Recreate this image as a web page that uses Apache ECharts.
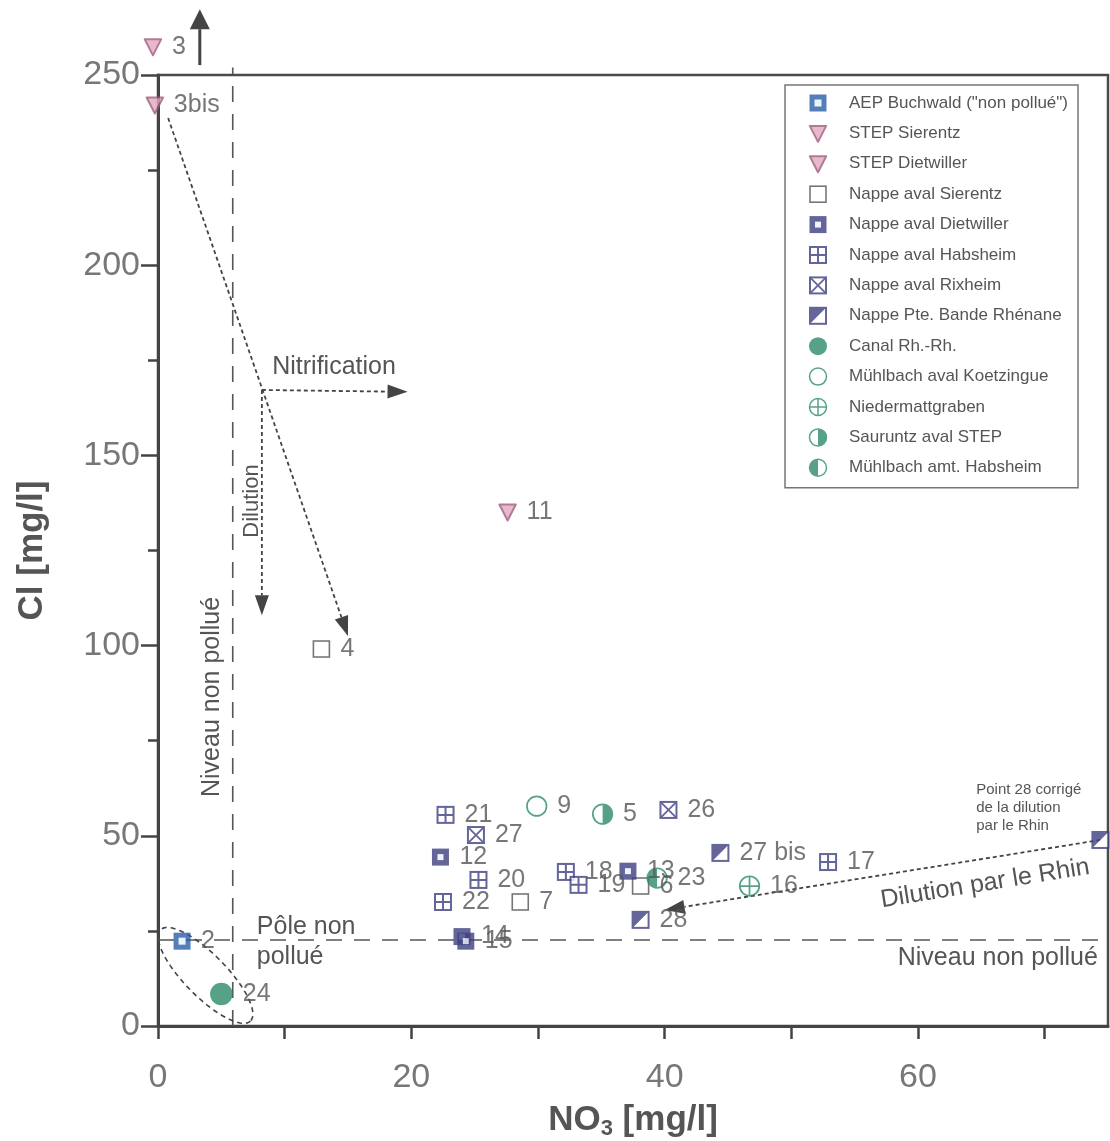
<!DOCTYPE html>
<html><head><meta charset="utf-8">
<script src="https://cdn.jsdelivr.net/npm/echarts@6/dist/echarts.min.js"></script>
<style>html,body{margin:0;padding:0;background:#fff}#c{width:1110px;height:1141px}</style>
</head><body><div id="c"></div>
<script>
// ---- data: [NO3 (mg/l), Cl (mg/l), point label] ----
const aepBuchwald     = [[1.9, 22.3, '2']];
const stepSierentz    = [[-0.4, 257.4, '3'], [-0.25, 242.1, '3bis']];
const stepDietwiller  = [[27.6, 135.1, '11']];
const nappeSierentz   = [[12.9, 99.1, '4'], [28.6, 32.6, '7'], [38.1, 36.8, '6']];
const nappeDietwiller = [[22.3, 44.4, '12'], [24.0, 23.5, '14'], [24.3, 22.3, '15'], [37.1, 40.7, '13']];
const nappeHabsheim   = [[22.7, 55.5, '21'], [25.3, 38.4, '20'], [22.5, 32.6, '22'], [32.2, 40.5, '18'], [33.2, 37.1, '19'], [52.9, 43.1, '17']];
const nappeRixheim    = [[25.1, 50.2, '27'], [40.3, 56.8, '26']];
const nappeBande      = [[38.1, 27.9, '28'], [44.4, 45.5, '27 bis'], [74.4, 48.9, '']];
const canalRhRh       = [[5.0, 8.4, '24']];
const muhlKoetz       = [[29.9, 57.8, '9']];
const niedermatt      = [[46.7, 36.8, '16']];
const sauruntz        = [[35.1, 55.7, '5']];
const muhlHabsheim    = [[39.4, 38.9, '23']];

const seriesNames = ['AEP Buchwald ("non pollué")', 'STEP Sierentz', 'STEP Dietwiller', 'Nappe aval Sierentz',
  'Nappe aval Dietwiller', 'Nappe aval Habsheim', 'Nappe aval Rixheim', 'Nappe Pte. Bande Rhénane',
  'Canal Rh.-Rh.', 'Mühlbach aval Koetzingue', 'Niedermattgraben', 'Sauruntz aval STEP', 'Mühlbach amt. Habsheim'];
const seriesData = [aepBuchwald, stepSierentz, stepDietwiller, nappeSierentz, nappeDietwiller, nappeHabsheim,
  nappeRixheim, nappeBande, canalRhRh, muhlKoetz, niedermatt, sauruntz, muhlHabsheim];

const xTicks = [0, 10, 20, 30, 40, 50, 60, 70];
const xLabels = [0, 20, 40, 60];

// ---- annotation geometry (data coordinates) ----
const levelCl = 22.6, levelNO3 = 5.9;

// ---- styles ----
const BLUE = '#2a5ea8', PURPLE = '#3e3f80', GREEN = '#2e8c69', MS = '#9c5b7b', MF = '#e4a7c1';
const svg = b => 'image://data:image/svg+xml;charset=utf-8,' + encodeURIComponent(
  '<svg xmlns="http://www.w3.org/2000/svg" width="40" height="40" viewBox="0 0 20 20">' + b + '</svg>');
const sqO = c => `<rect x="2" y="2" width="16" height="16" fill="#fff" stroke="${c}" stroke-width="2"/>`;
const ciO = `<circle cx="10" cy="10" r="8.5" fill="#fff" stroke="${GREEN}" stroke-width="1.5"/>`;
const icons = [
  svg(`<rect x="1.5" y="1.5" width="17" height="17" fill="${BLUE}"/><rect x="6.5" y="6.5" width="7" height="7" fill="#e6f0fb"/>`),
  svg(`<path d="M1.8 2.5H18.2L10 18.5Z" fill="${MF}" stroke="${MS}" stroke-width="2" stroke-linejoin="round"/>`),
  svg(`<path d="M1.8 2.5H18.2L10 18.5Z" fill="${MF}" stroke="${MS}" stroke-width="2" stroke-linejoin="round"/>`),
  svg(`<rect x="2" y="2" width="16" height="16" fill="#fff" stroke="#555" stroke-width="1.6"/>`),
  svg(`<rect x="1.5" y="1.5" width="17" height="17" fill="${PURPLE}"/><rect x="7" y="7" width="6" height="6" fill="#eef"/>`),
  svg(sqO(PURPLE) + `<path d="M10 2V18M2 10H18" stroke="${PURPLE}" stroke-width="2"/>`),
  svg(sqO(PURPLE) + `<path d="M2 2L18 18M18 2L2 18" stroke="${PURPLE}" stroke-width="1.8"/>`),
  svg(sqO(PURPLE) + `<path d="M2 2H18L2 18Z" fill="${PURPLE}"/>`),
  svg(`<circle cx="10" cy="10" r="9" fill="${GREEN}"/>`),
  svg(ciO),
  svg(ciO + `<path d="M10 1.5V18.5M1.5 10H18.5" stroke="${GREEN}" stroke-width="1.5"/>`),
  svg(ciO + `<path d="M10 1.5A8.5 8.5 0 0 1 10 18.5Z" fill="${GREEN}"/>`),
  svg(ciO + `<path d="M10 1.5A8.5 8.5 0 0 0 10 18.5Z" fill="${GREEN}"/>`)
];
const sizes = [20, 20, 20, 20, 20, 20, 20, 20, 25, 23, 23, 23, 23];
const FONT = '"Liberation Sans", Arial, sans-serif';
const TXT = '#555';

function annoRender(params, api) {
  if (params.dataIndex !== 0) return;
  const P = p => api.coord(p);
  const ch = [];
  const stroke = '#444';
  function seg(a, b, dash, w) {
    const A = P(a), B = P(b);
    ch.push({type: 'line', shape: {x1: A[0], y1: A[1], x2: B[0], y2: B[1]},
      style: {stroke: '#555', lineWidth: w, lineDash: dash}});
  }
  function arrow(a, b, dash, w, hl, hw) {
    const A = P(a), B = P(b);
    const dx = B[0] - A[0], dy = B[1] - A[1], L = Math.hypot(dx, dy), ux = dx / L, uy = dy / L;
    const bx = B[0] - ux * hl, by = B[1] - uy * hl;
    ch.push({type: 'line', shape: {x1: A[0], y1: A[1], x2: bx, y2: by}, style: {stroke, lineWidth: w, lineDash: dash}});
    ch.push({type: 'polygon', shape: {points: [[B[0], B[1]], [bx - uy * hw, by + ux * hw], [bx + uy * hw, by - ux * hw]]},
      style: {fill: stroke}});
  }
  function text(p, t, size, rot, align, extra) {
    const A = P(p);
    ch.push({type: 'text', x: A[0], y: A[1], rotation: rot || 0,
      style: Object.assign({text: t, fill: TXT, font: size + 'px ' + FONT, align: align || 'center', verticalAlign: 'middle'}, extra || {})});
  }
  // non-polluted level lines
  seg([0, levelCl], [75, levelCl], [16, 12], 1.6);
  seg([levelNO3, 0], [levelNO3, 252], [16, 12], 1.6);
  // ellipse around unpolluted pole
  const E1 = P([0.2, 25.3]), E2 = P([7.3, 1.3]);
  const cx = (E1[0] + E2[0]) / 2, cy = (E1[1] + E2[1]) / 2;
  const a = Math.hypot(E2[0] - E1[0], E2[1] - E1[1]) / 2, b = 21;
  const ux = (E2[0] - E1[0]) / (2 * a), uy = (E2[1] - E1[1]) / (2 * a);
  const pts = [];
  for (let i = 0; i <= 72; i++) {
    const t = i / 72 * Math.PI * 2;
    pts.push([cx + a * Math.cos(t) * ux - b * Math.sin(t) * uy, cy + a * Math.cos(t) * uy + b * Math.sin(t) * ux]);
  }
  ch.push({type: 'polyline', shape: {points: pts}, style: {stroke: '#444', fill: null, lineWidth: 1.6, lineDash: [5, 4]}});
  // arrows
  arrow([0.8, 238.7], [15.0, 102.5], [4, 3], 1.8, 20, 7);
  arrow([8.2, 167.2], [19.7, 166.7], [4, 3], 1.8, 20, 7);
  arrow([8.2, 167.2], [8.2, 108.0], [4, 3], 1.8, 20, 7);
  arrow([74.4, 48.9], [40.0, 30.5], [4, 3], 1.8, 20, 7);
  arrow([3.3, 252.6], [3.3, 267.3], null, 3, 20, 10);
  // texts
  text([13.9, 173.2], 'Nitrification', 25);
  text([7.4, 138.0], 'Dilution', 22, Math.PI / 2);
  text([4.3, 86.5], 'Niveau non pollué', 25, Math.PI / 2);
  text([7.8, 22.0], 'Pôle non\npollué', 25, 0, 'left', {lineHeight: 30});
  text([74.2, 17.8], 'Niveau non pollué', 25, 0, 'right');
  text([64.6, 57.4], 'Point 28 corrigé\nde la dilution\npar le Rhin', 15, 0, 'left', {lineHeight: 18});
  text([65.3, 37.4], 'Dilution par le Rhin', 25, 0.16);
  return {type: 'group', children: ch};
}

const series = seriesData.map((d, i) => ({
  name: seriesNames[i], type: 'scatter', data: d, symbol: icons[i], symbolSize: sizes[i],
  clip: false, z: 3,
  label: {show: true, position: 'right', distance: 9, formatter: p => p.data[2],
    fontSize: 25, color: TXT, fontFamily: FONT}
}));
series.unshift({type: 'custom', name: 'annotations', coordinateSystem: 'cartesian2d', clip: false, z: 1,
  data: [[0, 0]], renderItem: annoRender, silent: true});

const chart = echarts.init(document.getElementById('c'), null, {renderer: 'canvas'});
chart.setOption({
  animation: false,
  backgroundColor: '#fff',
  grid: {left: 158, right: 2, top: 75, bottom: 115, show: true, borderColor: '#4a4a4a', borderWidth: 2.5,
    containLabel: false, outerBoundsMode: 'none'},
  xAxis: {
    type: 'value', min: 0, max: 75,
    name: '{a|NO}{b|3}{a| [mg/l]}', nameLocation: 'middle', nameGap: 74,
    nameTextStyle: {rich: {
      a: {fontSize: 35, fontWeight: 'bold', color: '#555', fontFamily: FONT, lineHeight: 40},
      b: {fontSize: 22, fontWeight: 'bold', color: '#555', fontFamily: FONT, lineHeight: 22, padding: [18, 0, 0, 0]}
    }},
    axisLine: {show: true, lineStyle: {color: '#444', width: 3}},
    axisTick: {show: true, customValues: xTicks, length: 13, lineStyle: {color: '#444', width: 2.5}},
    axisLabel: {customValues: xLabels, fontSize: 34, color: '#777', margin: 35, fontFamily: FONT},
    splitLine: {show: false}
  },
  yAxis: {
    type: 'value', min: 0, max: 250, interval: 50,
    name: 'Cl [mg/l]', nameLocation: 'middle', nameGap: 108, nameRotate: 90,
    nameTextStyle: {fontSize: 35, fontWeight: 'bold', color: '#555', fontFamily: FONT},
    axisLine: {show: true, lineStyle: {color: '#444', width: 3}},
    axisTick: {show: true, length: 17, lineStyle: {color: '#444', width: 2.5}},
    minorTick: {show: true, splitNumber: 2, length: 10, lineStyle: {color: '#444', width: 2.5}},
    axisLabel: {fontSize: 34, color: '#777', margin: 18, fontFamily: FONT},
    splitLine: {show: false}
  },
  legend: {
    orient: 'vertical', left: 785, top: 85,
    data: seriesNames.map((n, i) => ({name: n, icon: icons[i]})),
    itemWidth: 20, itemHeight: 20, itemGap: 10.4,
    padding: [8, 10, 10, 23],
    backgroundColor: '#fff', borderColor: '#777', borderWidth: 1.5,
    textStyle: {fontSize: 17, color: '#555', fontFamily: FONT, padding: [0, 0, 0, 16]},
    selectedMode: false
  },
  series
});
</script>
</body></html>
